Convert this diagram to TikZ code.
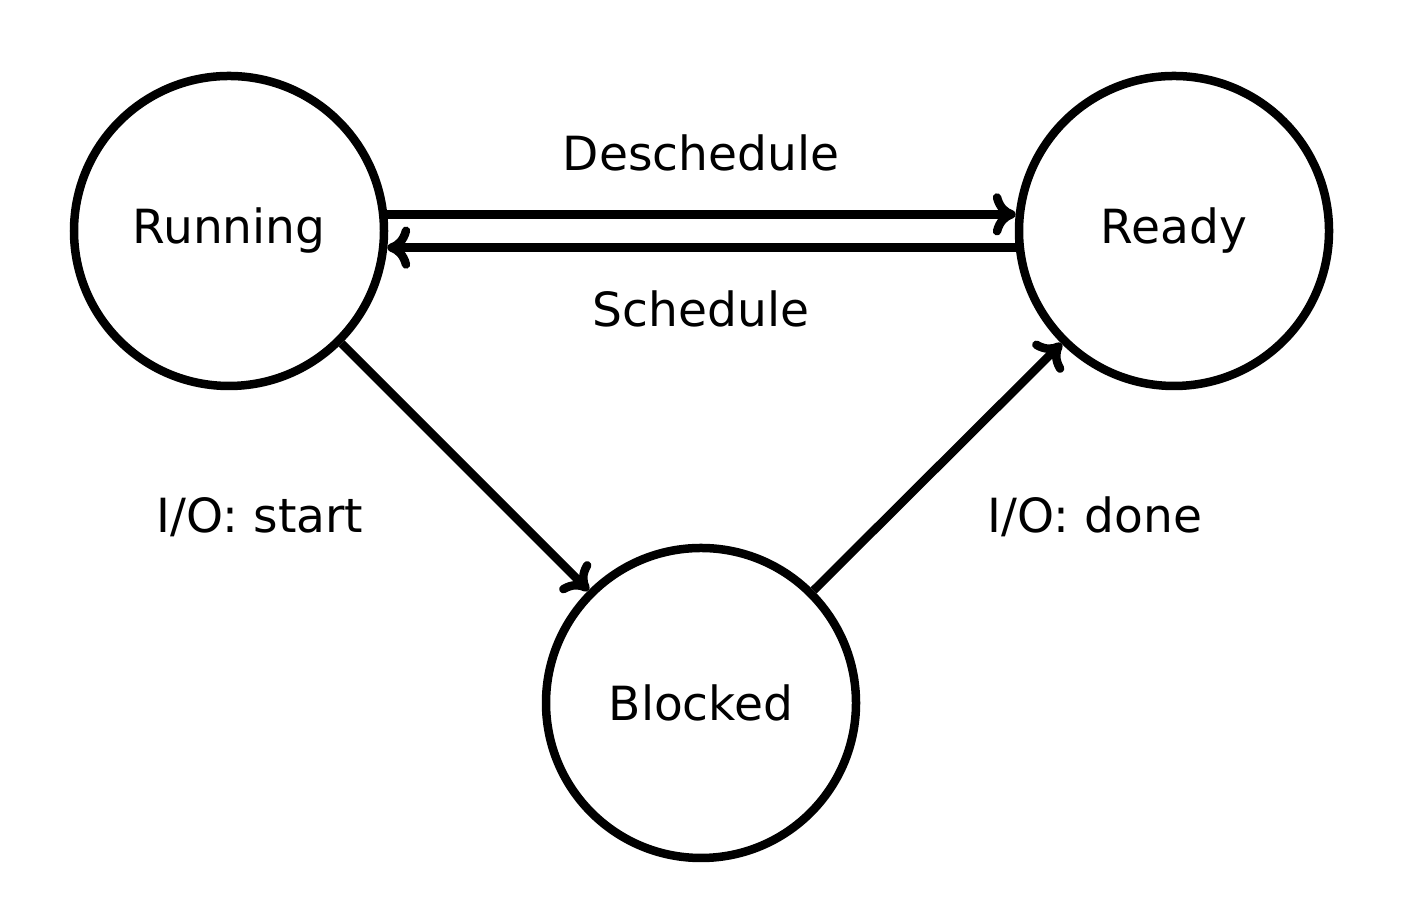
\documentclass[tikz,border=0pt]{standalone}
\usepackage{fontspec}
\setmainfont{DejaVu Sans}
\usepackage{tikz}
\usetikzlibrary{arrows.meta,positioning}

\begin{document}
\begin{tikzpicture}[
    >={To[round, length=6.5pt, width=12pt]},
    procstate/.style={draw, circle, line width=0.085cm, minimum size=3.1cm, inner sep=0pt, font=\fontsize{13.4}{16}\selectfont},
    arrow/.style={->, line width=0.085cm},
    label/.style={font=\fontsize{13.4}{16}\selectfont, anchor=base},
    every node/.style={font=\fontsize{13.4}{16}\selectfont}
]
\useasboundingbox (0,0) rectangle (14.18,9.22);

% ---- States ----
\node[procstate] (running) at (2.29, 6.91) {Running};
\node[procstate] (ready) at (11.74, 6.91) {Ready};
\node[procstate] (blocked) at (7.01, 2.19) {Blocked};

% ---- Labels ----
\node[label] (deschedlbl) at (7.01, 7.51) {Deschedule};
\node[label] (schedlbl) at (7.01, 5.95) {Schedule};
\node[label] (iostartlbl) at (2.60, 3.89) {I/O: start};
\node[label] (iodonelbl) at (10.95, 3.89) {I/O: done};

% ---- Transitions ----
\draw[arrow] (running.6) -- (ready.174);
\draw[arrow] (ready.186) -- (running.-6);
\draw[arrow] (running.-45) -- (blocked.135);
\draw[arrow] (blocked.45) -- (ready.-135);

\end{tikzpicture}
\end{document}
